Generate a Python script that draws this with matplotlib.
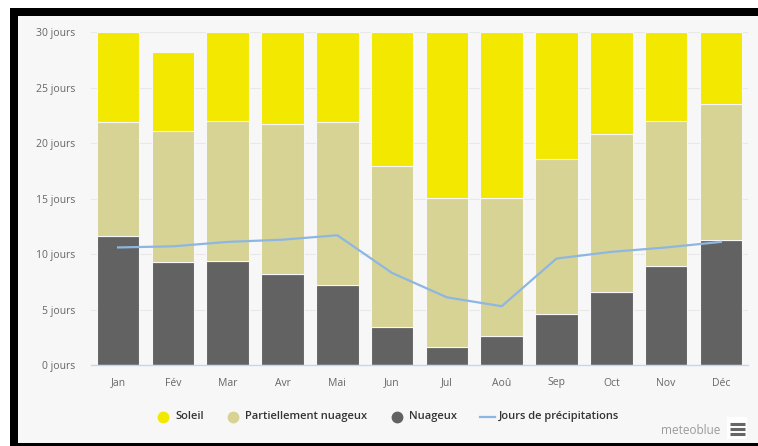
import matplotlib
matplotlib.use("Agg")
import matplotlib.pyplot as plt
from matplotlib.patches import Rectangle
from matplotlib.lines import Line2D
import numpy as np

plt.rcParams['font.family'] = ['Open Sans', 'DejaVu Sans']

months = ["Jan", "Fév", "Mar", "Avr", "Mai", "Jun", "Jul", "Aoû", "Sep", "Oct", "Nov", "Déc"]
nuageux = [11.6, 9.3, 9.4, 8.2, 7.2, 3.4, 1.6, 2.6, 4.6, 6.6, 8.9, 11.3]
partiel = [10.3, 11.8, 12.6, 13.5, 14.7, 14.5, 13.5, 12.5, 14.0, 14.2, 13.1, 12.2]
soleil = [8.1, 7.1, 8.0, 8.3, 8.1, 12.1, 14.9, 14.9, 11.4, 9.2, 8.0, 6.5]
precip = [10.6, 10.7, 11.1, 11.3, 11.7, 8.3, 6.1, 5.3, 9.6, 10.2, 10.6, 11.1]
yticks = [0, 5, 10, 15, 20, 25, 30]

c_sun = "#F2E800"
c_part = "#D7D394"
c_cloud = "#626262"
c_line = "#8DB7E2"

W, H = 758, 446
fig = plt.figure(figsize=(W / 100, H / 100), dpi=100)
fig.patch.set_facecolor("white")

# black frame on top, left and bottom with a light grey panel inside
fig.patches.append(Rectangle((10 / W, 0), 1 - 10 / W, 1 - 8 / H, transform=fig.transFigure,
                             facecolor="black", edgecolor="none", zorder=-3))
fig.patches.append(Rectangle((18 / W, 3 / H), 1 - 18 / W, 1 - 19 / H, transform=fig.transFigure,
                             facecolor="#F7F7F7", edgecolor="none", zorder=-2))

ax = fig.add_axes([90.7 / W, 81 / H, 657.6 / W, 332.7 / H])
ax.set_facecolor("none")

x = np.arange(len(months))
bw = 0.78
bottom2 = np.array(nuageux)
bottom3 = bottom2 + np.array(partiel)
ax.bar(x, nuageux, width=bw, color=c_cloud, edgecolor="#F7F7F7", linewidth=0.8, zorder=2)
ax.bar(x, partiel, width=bw, bottom=bottom2, color=c_part, edgecolor="#F7F7F7", linewidth=0.8, zorder=2)
ax.bar(x, soleil, width=bw, bottom=bottom3, color=c_sun, edgecolor="#F7F7F7", linewidth=0.8, zorder=2)
ax.plot(x, precip, color=c_line, linewidth=1.6, zorder=3, solid_joinstyle="round")

ax.set_xlim(-0.5, len(months) - 0.5)
ax.set_ylim(0, 30)
ax.set_yticks(yticks)
ax.set_yticklabels([f"{v} jours" for v in yticks], color="#666666", fontsize=7.5)
ax.set_xticks(x)
ax.set_xticklabels(months, color="#666666", fontsize=7.5)
ax.tick_params(axis="both", length=0)
ax.tick_params(axis="x", pad=9)
ax.tick_params(axis="y", pad=11)
ax.grid(axis="y", color="#E8E8E8", linewidth=0.8, zorder=0)
for s in ["top", "right", "left"]:
    ax.spines[s].set_visible(False)
ax.spines["bottom"].set_color("#C8D6EC")
ax.spines["bottom"].set_linewidth(1.0)
ax.spines["bottom"].set_zorder(4)

# legend row
ly = 1 - 416.7 / H
items = [
    ("circle", c_sun, 163, 175, "Soleil"),
    ("circle", c_part, 233, 245, "Partiellement nuageux"),
    ("circle", c_cloud, 397, 409, "Nuageux"),
    ("line", c_line, 487, 499, "Jours de précipitations"),
]
for kind, col, mx, tx, label in items:
    if kind == "circle":
        fig.add_artist(Line2D([mx / W], [ly], marker="o", markersize=7.5, color=col,
                              linestyle="none", transform=fig.transFigure))
    else:
        fig.add_artist(Line2D([(mx - 7) / W, (mx + 8) / W], [ly, ly], color=col,
                              linewidth=1.6, transform=fig.transFigure))
    fig.text(tx / W, ly, label, fontsize=8.0, color="#333333", va="center", ha="left",
             fontweight="semibold")

fig.text(720 / W, 1 - 430 / H, "meteoblue", fontsize=8.5, color="#9A9A9A", ha="right", va="center")

# menu button
fig.patches.append(Rectangle((727 / W, 1 - 439 / H), 20 / W, 22 / H, transform=fig.transFigure,
                             facecolor="white", edgecolor="none"))
for yy in [423.5, 428.5, 433.5]:
    fig.add_artist(Line2D([730 / W, 745 / W], [1 - yy / H] * 2, color="#666666", linewidth=2.2,
                          transform=fig.transFigure, solid_capstyle="butt"))

fig.savefig("out.png", dpi=100, facecolor=fig.get_facecolor())
